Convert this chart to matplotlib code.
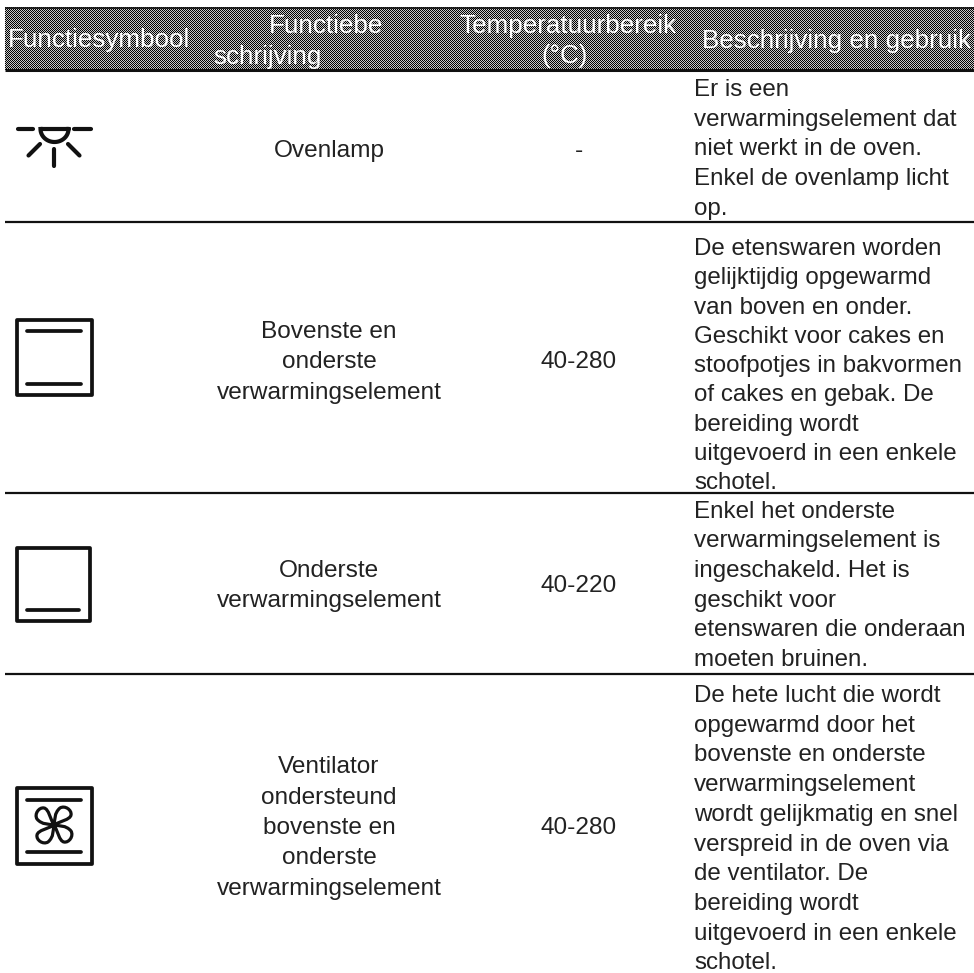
import numpy as np
import matplotlib
matplotlib.use('Agg')
import matplotlib.pyplot as plt
from matplotlib.patches import Rectangle, PathPatch
from matplotlib.path import Path

plt.rcParams['font.family'] = ['Liberation Sans', 'DejaVu Sans']

W, H = 974, 973
header_texts = ["Functiesymbool", "Functiebe", "schrijving", "Temperatuurbereik", "(°C)", "Beschrijving en gebruik"]
header_pos = [(99, 47), (326, 33), (267, 64), (568, 33), (565, 63), (837, 48)]
names = ["Ovenlamp", "Bovenste en\nonderste\nverwarmingselement", "Onderste\nverwarmingselement",
         "Ventilator\nondersteund\nbovenste en\nonderste\nverwarmingselement"]
temps = ["-", "40-280", "40-220", "40-280"]
descs = [
 ["Er is een", "verwarmingselement dat", "niet werkt in de oven.", "Enkel de ovenlamp licht", "op."],
 ["De etenswaren worden", "gelijktijdig opgewarmd", "van boven en onder.", "Geschikt voor cakes en", "stoofpotjes in bakvormen", "of cakes en gebak. De", "bereiding wordt", "uitgevoerd in een enkele", "schotel."],
 ["Enkel het onderste", "verwarmingselement is", "ingeschakeld. Het is", "geschikt voor", "etenswaren die onderaan", "moeten bruinen."],
 ["De hete lucht die wordt", "opgewarmd door het", "bovenste en onderste", "verwarmingselement", "wordt gelijkmatig en snel", "verspreid in de oven via", "de ventilator. De", "bereiding wordt", "uitgevoerd in een enkele", "schotel."],
]
rule_y = [222, 493, 674]
name_cy = [151, 362, 586, 828]
desc_first = [96, 255, 518, 702]
line_h = [29.7, 29.3, 29.5, 29.7]
FS = 17.6
FS_DESC = 17.4
FS_HEAD = 18.7
TC = '#222222'
LW = 2.7
LAMP_LW = 3.0

fig = plt.figure(figsize=(W/100, H/100), dpi=100)
ax = fig.add_axes([0, 0, 1, 1])

# dithered header band
yy, xx = np.mgrid[0:63, 0:969]
pat = ((xx + yy) % 2).astype(float) * 0.78
ax.imshow(pat, cmap='gray', vmin=0, vmax=1, extent=(5, 974, 70, 7),
          interpolation='nearest', aspect='auto', zorder=1)
ax.set_xlim(0, W); ax.set_ylim(H, 0); ax.axis('off')

for s, (x, y) in zip(header_texts, header_pos):
    ax.text(x, y, s, color='white', fontsize=FS_HEAD, ha='center', va='baseline', zorder=3)

ax.plot([5, W], [7.5, 7.5], color='#111111', lw=1.2, solid_capstyle='butt', zorder=2)
ax.plot([5, W], [70, 70], color='#111111', lw=2.2, solid_capstyle='butt', zorder=2)
for y in rule_y:
    ax.plot([5, W], [y, y], color='#111111', lw=1.6, solid_capstyle='butt', zorder=2)

for name, t, cy in zip(names, temps, name_cy):
    ax.text(329, cy, name, fontsize=FS, ha='center', va='center', linespacing=1.5, color=TC)
    ax.text(579, cy, t, fontsize=FS, ha='center', va='center', color=TC)

for lines, fy, lh in zip(descs, desc_first, line_h):
    for i, s in enumerate(lines):
        ax.text(694, fy + i * lh, s, fontsize=FS_DESC, ha='left', va='baseline', color=TC)


def seg(x0, y0, x1, y1, lw=LW):
    ax.plot([x0, x1], [y0, y1], color='#111111', lw=lw, solid_capstyle='round', zorder=4)


def box(x0, y0, x1, y1):
    ax.add_patch(Rectangle((x0, y0), x1 - x0, y1 - y0, fill=False, ec='#111111',
                           lw=LW, joinstyle='round', zorder=4))


# lamp icon
seg(18, 128.5, 33, 128.5, LAMP_LW); seg(74, 128.5, 91, 128.5, LAMP_LW)
seg(28.5, 155.5, 40, 144, LAMP_LW); seg(68, 144, 79.5, 155.5, LAMP_LW); seg(54, 149, 54, 165.5, LAMP_LW)
t = np.linspace(0, np.pi, 40)
ax.plot(54.5 + 14 * np.cos(t), 129 + 13 * np.sin(t), color='#111111', lw=LAMP_LW, zorder=4)
seg(40.5, 129, 68.5, 129, LAMP_LW)

# upper + lower element
box(17, 320, 92, 395)
seg(27, 331, 81, 331); seg(27, 383.5, 81, 383.5)

# lower element
box(17, 548, 89.5, 621)
seg(27, 610, 79, 610)

# fan icon
box(17, 788, 92, 864)
seg(27, 799.5, 81, 799.5); seg(27, 852, 81, 852)
cx, cy = 54, 825
blade = np.array([(0, 0), (-5, -1), (-12, 0), (-17, -6), (-20, -11), (-15, -18), (-10, -17), (-5, -16), (-4, -6), (0, 0)])
codes = [Path.MOVETO] + [Path.CURVE4] * 9
for k in range(4):
    a = k * np.pi / 2
    R = np.array([[np.cos(a), -np.sin(a)], [np.sin(a), np.cos(a)]])
    pts = blade @ R.T + (cx, cy)
    ax.add_patch(PathPatch(Path(pts, codes), fill=False, ec='#111111', lw=2.3, zorder=4))

plt.savefig('out.png', dpi=100)
